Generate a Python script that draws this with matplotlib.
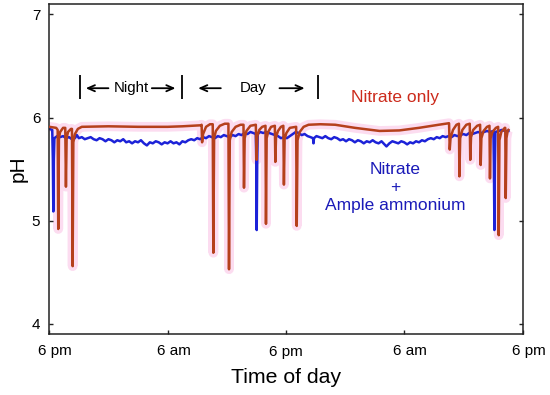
import matplotlib
matplotlib.use('Agg')
import matplotlib.pyplot as plt
import matplotlib.transforms as mtrans

plt.rcParams['font.family'] = ['Liberation Sans', 'DejaVu Sans']

# hours after 6 pm on day 1, pH
red_t = [0.0, 0.7, 0.85, 0.91, 0.98, 1.1, 1.4, 1.62, 1.69, 1.76, 1.9, 2.2, 2.3, 2.37, 2.44,
         2.6, 2.9, 3.3, 6.0, 9.0, 12.0, 13.5, 15.4, 15.45, 15.5, 15.6, 15.9, 16.3, 16.58,
         16.64, 16.72, 16.9, 17.3, 17.8, 18.17, 18.23, 18.31, 18.5, 18.9, 19.4, 19.7,
         19.75, 19.82, 20.0, 20.4, 20.95, 21.02, 21.1, 21.3, 21.6, 21.93, 21.98, 22.05,
         22.2, 22.5, 22.88, 22.93, 23.0, 23.2, 23.5, 23.74, 23.8, 23.87, 24.05, 24.4,
         25.04, 25.1, 25.18, 25.4, 25.8, 26.3, 27.5, 29.0, 31.0, 33.5, 35.5, 37.5, 39.5,
         40.55, 40.62, 40.7, 40.95, 41.3, 41.55, 41.6, 41.68, 41.9, 42.3, 42.65, 42.7,
         42.78, 43.0, 43.4, 43.7, 43.76, 43.83, 44.05, 44.4, 44.65, 44.7, 44.77, 44.95,
         45.3, 45.53, 45.59, 45.66, 45.85, 46.2, 46.25, 46.3, 46.37, 46.5, 46.57]
red_ph = [5.91, 5.90, 5.88, 4.92, 5.80, 5.86, 5.90, 5.90, 5.33, 5.80, 5.86, 5.89, 5.89, 4.56, 5.76,
          5.84, 5.89, 5.91, 5.915, 5.91, 5.91, 5.915, 5.925, 5.93, 5.76, 5.84, 5.91, 5.935, 5.935,
          4.69, 5.80, 5.87, 5.92, 5.94, 5.94, 4.53, 5.78, 5.86, 5.91, 5.93, 5.93,
          5.32, 5.80, 5.87, 5.92, 5.93, 5.59, 5.82, 5.88, 5.91, 5.92, 4.97, 5.80,
          5.86, 5.91, 5.92, 5.57, 5.81, 5.87, 5.91, 5.92, 5.35, 5.79, 5.85, 5.90,
          5.91, 4.95, 5.78, 5.86, 5.91, 5.93, 5.935, 5.93, 5.90, 5.87, 5.875, 5.90, 5.93,
          5.945, 5.69, 5.80, 5.88, 5.93, 5.94, 5.43, 5.80, 5.88, 5.93, 5.94, 5.59,
          5.81, 5.88, 5.92, 5.93, 5.54, 5.80, 5.87, 5.91, 5.92, 5.41, 5.80, 5.86,
          5.90, 5.91, 4.86, 5.78, 5.86, 5.90, 5.90, 5.22, 5.80, 5.87, 5.88]

blue_t = [0.0, 0.3, 0.36, 0.41, 0.46, 0.52, 0.8, 1.1, 1.4, 1.7, 2.0, 2.3, 2.6, 2.8, 3.0, 3.3,
          3.6, 3.9, 4.2, 4.5, 4.8, 5.1, 5.4, 5.7, 6.0, 6.3, 6.6, 6.9, 7.2, 7.5, 7.8, 8.1, 8.4,
          8.7, 9.0, 9.3, 9.6, 9.9, 10.2, 10.5, 10.8, 11.1, 11.4, 11.7, 12.0, 12.3, 12.6, 12.9,
          13.2, 13.5, 13.8, 14.1, 14.4, 14.7, 15.0, 15.3, 15.6, 15.9, 16.2, 16.5, 16.8, 17.1,
          17.4, 17.7, 18.0, 18.3, 18.6, 18.9, 19.2, 19.5, 19.8, 20.1, 20.4, 20.7, 20.95, 21.0,
          21.04, 21.09, 21.14, 21.4, 21.7, 22.0, 22.3, 22.6, 22.9, 23.2, 23.5, 23.8, 24.1,
          24.4, 24.7, 25.0, 25.3, 25.6, 25.9, 26.2, 26.5, 26.75, 26.8, 26.85, 27.1, 27.4,
          27.7, 28.0, 28.3, 28.6, 28.9, 29.2, 29.5, 29.8, 30.1, 30.4, 30.7, 31.0, 31.3, 31.6,
          31.9, 32.2, 32.5, 32.8, 33.1, 33.4, 33.7, 34.0, 34.2, 34.5, 34.8, 35.1, 35.4, 35.7,
          36.0, 36.3, 36.6, 36.9, 37.2, 37.5, 37.8, 38.1, 38.4, 38.7, 39.0, 39.3, 39.6, 39.9,
          40.2, 40.5, 40.8, 41.1, 41.4, 41.7, 42.0, 42.3, 42.6, 42.9, 43.2, 43.5, 43.8, 44.1,
          44.4, 44.7, 45.05, 45.1, 45.15, 45.2, 45.25, 45.6, 45.9, 46.2, 46.57]
blue_ph = [5.89, 5.88, 5.60, 5.09, 5.60, 5.80, 5.82, 5.81, 5.82, 5.80, 5.81, 5.79, 5.80, 5.83, 5.80, 5.81,
           5.79, 5.80, 5.81, 5.79, 5.78, 5.80, 5.79, 5.77, 5.79, 5.78, 5.76, 5.78, 5.77, 5.79, 5.76, 5.77, 5.75,
           5.77, 5.76, 5.78, 5.75, 5.73, 5.76, 5.75, 5.77, 5.76, 5.74, 5.76, 5.75, 5.77, 5.75, 5.76,
           5.74, 5.77, 5.76, 5.78, 5.79, 5.78, 5.80, 5.79, 5.81, 5.80, 5.82, 5.81, 5.80, 5.82,
           5.81, 5.83, 5.82, 5.81, 5.83, 5.82, 5.84, 5.83, 5.85, 5.84, 5.86, 5.85, 5.84, 5.55,
           4.91, 5.55, 5.84, 5.86, 5.85, 5.86, 5.85, 5.84, 5.83, 5.82, 5.80, 5.81, 5.80,
           5.82, 5.84, 5.86, 5.85, 5.83, 5.84, 5.82, 5.81, 5.80, 5.75, 5.80, 5.82, 5.81,
           5.80, 5.82, 5.80, 5.79, 5.81, 5.80, 5.78, 5.79, 5.77, 5.79, 5.78, 5.76, 5.78, 5.77,
           5.75, 5.77, 5.76, 5.78, 5.76, 5.75, 5.77, 5.74, 5.72, 5.75, 5.77, 5.76, 5.75, 5.77,
           5.76, 5.74, 5.76, 5.75, 5.77, 5.76, 5.78, 5.77, 5.79, 5.80, 5.79, 5.81, 5.80, 5.82,
           5.81, 5.82, 5.81, 5.83, 5.82, 5.83, 5.84, 5.83, 5.85, 5.84, 5.85, 5.86, 5.85, 5.86,
           5.87, 5.86, 5.87, 5.55, 4.91, 5.55, 5.86, 5.87, 5.88, 5.87, 5.87]

xticks = [0, 12, 24, 36, 48]
xticklabels = ['6 pm', '6 am', '6 pm', '6 am', '6 pm']
yticks = [4, 5, 6, 7]

# night / day markers (hours)
bars = [3.1, 13.5, 27.3]

fig = plt.figure(figsize=(5.5, 3.95), dpi=100)
ax = fig.add_axes([0.0896, 0.1537, 0.8604, 0.8362])

ax.plot(red_t, red_ph, color='#fcdcf0', lw=7, zorder=1, solid_capstyle='butt')
ax.plot(blue_t, blue_ph, color='#1c22d8', lw=1.8, zorder=2)
ax.plot(red_t, red_ph, color='#b5401c', lw=1.8, zorder=3)

ax.set_xlim(0, 48)
ax.set_ylim(3.9, 7.1)
ax.set_xticks(xticks)
ax.set_xticklabels(xticklabels)
ax.set_yticks(yticks)
ax.tick_params(axis='both', direction='in', length=3, width=1, labelsize=11, color='#222222')
ax.tick_params(axis='x', pad=7)
ax.tick_params(axis='y', pad=6.5, right=True)
for sp in ax.spines.values():
    sp.set_linewidth(1.1)
    sp.set_color('#222222')

# tick labels sit a little right of their ticks in the original
for i, lab in enumerate(ax.get_xticklabels()):
    if i == 2:
        off = mtrans.ScaledTranslation(0, -0.013, fig.dpi_scale_trans)
    else:
        off = mtrans.ScaledTranslation(0.06, 0, fig.dpi_scale_trans)
    lab.set_transform(lab.get_transform() + off)

ax.set_xlabel('Time of day', fontsize=15.3)
ax.xaxis.set_label_coords(0.5, -0.101)
ax.set_ylabel('pH', fontsize=15)
ax.yaxis.set_label_coords(-0.045, 0.5)

ax.vlines(bars, 6.18, 6.415, color='k', lw=1.3)
y_arr = 6.284
aprops = dict(arrowstyle='->,head_length=0.5,head_width=0.22', lw=1.3, color='k',
              shrinkA=0, shrinkB=0)
ax.annotate('', xy=(3.7, y_arr), xytext=(6.0, y_arr), arrowprops=aprops)
ax.annotate('', xy=(12.8, y_arr), xytext=(10.4, y_arr), arrowprops=aprops)
ax.annotate('', xy=(15.1, y_arr), xytext=(17.4, y_arr), arrowprops=aprops)
ax.annotate('', xy=(25.9, y_arr), xytext=(23.35, y_arr), arrowprops=aprops)
ax.text(8.37, y_arr, 'Night', ha='center', va='center', fontsize=10.8)
ax.text(20.66, y_arr, 'Day', ha='center', va='center', fontsize=10.8)

ax.text(35.1, 6.19, 'Nitrate only', color='#cc2b1c', fontsize=12.5, ha='center', va='center')
ax.text(35.1, 5.32, 'Nitrate\n+\nAmple ammonium', color='#1a1ab8', fontsize=12.5,
        ha='center', va='center', linespacing=1.27)

fig.savefig('out.png', dpi=100)
